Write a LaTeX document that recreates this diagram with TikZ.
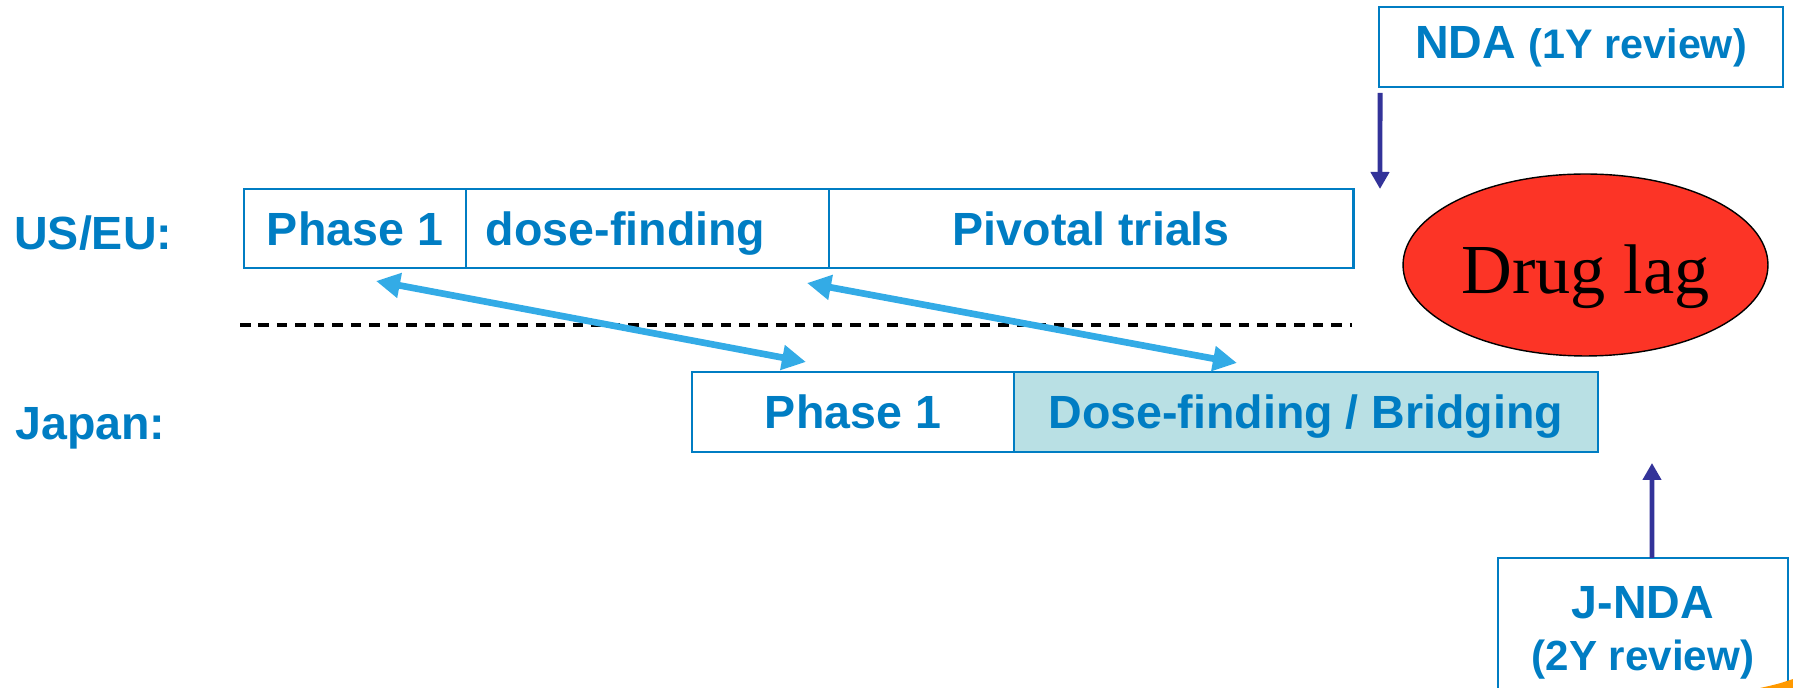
\documentclass[tikz,border=0pt]{standalone}
\usepackage{fontspec}
\setmainfont{Liberation Sans}
\newfontfamily\lagfont{Liberation Serif}
\usetikzlibrary{positioning}
\usetikzlibrary{shapes.geometric}
\usetikzlibrary{arrows.meta}

\definecolor{phaseblue}{RGB}{0,125,195}
\definecolor{bridgefill}{RGB}{185,224,228}
\definecolor{linkblue}{RGB}{51,171,230}
\definecolor{ndanavy}{RGB}{51,51,153}
\definecolor{lagred}{RGB}{252,52,38}

\tikzset{
    phasebox/.style={draw=phaseblue, line width=1.5pt, outer sep=0pt, inner sep=0pt,
        text=phaseblue, font=\fontsize{26.5}{30}\selectfont\bfseries,
        text height=19pt, text depth=0pt},
    rowlabel/.style={text=phaseblue, font=\fontsize{26.5}{30}\selectfont\bfseries,
        inner sep=0pt, anchor=base west},
    ndabox/.style={draw=phaseblue, line width=1.5pt, inner sep=0pt, outer sep=0pt, text=phaseblue,
        font=\fontsize{26.5}{29.5}\selectfont\bfseries},
    link/.style={linkblue, line width=3.8pt,
        {Triangle[length=0.48cm, width=0.48cm]}-{Triangle[length=0.48cm, width=0.48cm]}},
    submit/.style={ndanavy, line width=2.8pt, -{Triangle[length=0.34cm, width=0.36cm]}}
}

\begin{document}
\begin{tikzpicture}[x=0.02cm, y=-0.02cm]

    \useasboundingbox (0, 0) rectangle (1793, 688);
    \clip (0, 0) rectangle (1793, 688);

    % Row labels
    \node[rowlabel] (uslabel) at (14, 250) {US/EU:};
    \node[rowlabel] (jplabel) at (15, 440) {Japan:};

    % US/EU development
    \node[phasebox, minimum width=4.44cm, minimum height=1.58cm, anchor=north west] (p1us) at (244, 189) {Phase 1};
    \node[phasebox, minimum width=7.26cm, minimum height=1.58cm, text width=6.46cm, align=left, right=0pt of p1us] (dfus) {dose-finding};
    \node[phasebox, minimum width=10.5cm, minimum height=1.58cm, right=0pt of dfus] (pvus) {Pivotal trials};

    \draw[line width=1.8pt, dash pattern=on 0.21cm off 0.16cm] (240, 325) -- (1352, 325);

    % Japan development
    \node[phasebox, minimum width=6.44cm, minimum height=1.6cm, anchor=north west] (p1jp) at (692, 372) {Phase 1};
    \node[phasebox, fill=bridgefill, minimum width=11.68cm, minimum height=1.6cm, right=0pt of p1jp] (brjp) {Dose-finding / Bridging};

    % Filings
    \node[ndabox, minimum width=8.08cm, minimum height=1.6cm] (nda) at (1581, 47) {NDA {\fontsize{23.5}{29.5}\selectfont (1Y review)}};
    \node[ndabox, minimum width=5.8cm, minimum height=3cm, align=center, anchor=north] (jnda) at (1643, 558) {J-NDA\\{\fontsize{24}{29.5}\selectfont (2Y review)}};

    \node[ellipse, draw=black, line width=0.8pt, fill=lagred, minimum width=7.3cm, minimum height=3.64cm, inner sep=0pt,
        font=\lagfont\fontsize{40}{44}\selectfont, text height=32pt, text depth=0pt] (lag) at (1585.5, 265) {Drug lag};

    % Links between the two programmes
    \coordinate (usP1) at (376, 281);
    \coordinate (jpP1) at (806, 362);
    \coordinate (usDF) at (807, 283);
    \coordinate (jpBR) at (1237, 363);
    \draw[link] (usP1) -- (jpP1);
    \draw[link] (usDF) -- (jpBR);

    % Submissions
    \coordinate (ndatip) at (1380, 189);
    \coordinate (jndatip) at (1652, 463);
    \draw[submit] ([xshift=0.02cm, yshift=-0.12cm]nda.south west) -- (ndatip);
    \draw[submit] ([xshift=0.18cm]jnda.north) -- (jndatip);

    \fill[orange!80!yellow] (1760, 688) .. controls (1778, 684) .. (1793, 679) -- (1793, 688) -- cycle;

\end{tikzpicture}
\end{document}
